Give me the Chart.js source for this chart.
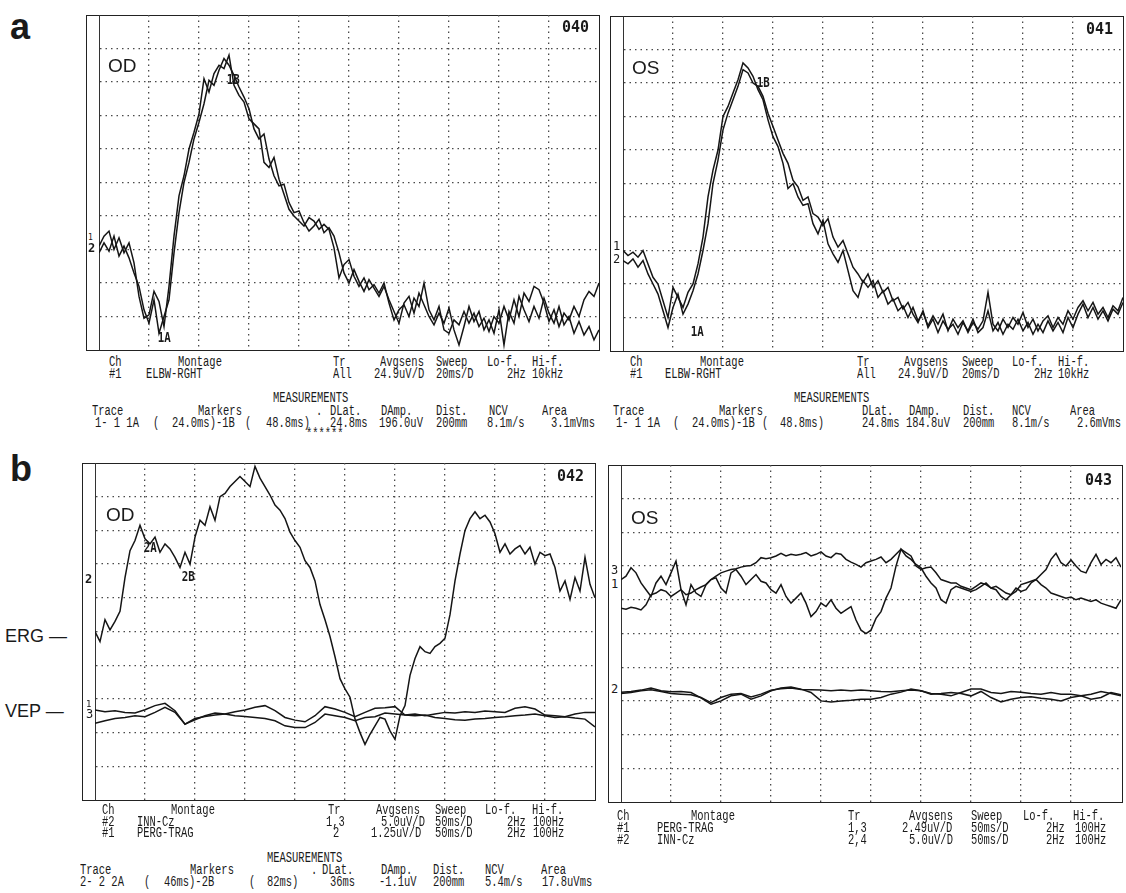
<!DOCTYPE html>
<html>
<head>
<meta charset="utf-8">
<script src="https://cdn.jsdelivr.net/npm/chart.js@4.4.0/dist/chart.umd.min.js"></script>
<style>
  body { margin: 0; background: #fff; }
  #page { position: relative; width: 1126px; height: 893px; overflow: hidden; color: #1a1a1a; background: #fff; }
  .box { position: absolute; box-sizing: border-box; border: 1.5px solid #222; }
  canvas { position: absolute; }
  .txt { position: absolute; white-space: pre; font: 11px "Liberation Mono", monospace; line-height: 12px;
         transform: scale(0.95, 1.35); transform-origin: 0 50%; }
  .lab { position: absolute; white-space: pre; font-family: "Liberation Sans", Arial, sans-serif; line-height: 1; }
  .num { position: absolute; font: bold 15px "DejaVu Sans Mono", monospace; line-height: 1; }
  .mk { position: absolute; font: bold 12px "DejaVu Sans Mono", monospace; line-height: 1; transform: scale(0.9, 1.2); }
  .tr { position: absolute; font: 12px "DejaVu Sans Mono", monospace; line-height: 1; }
</style>
</head>
<body>
<div id="page"></div>
<script>
// sample times (ms)
const timeA = [0,2,4,6,8,10,12,14,16,18,20,22,24,26,28,30,32,34,36,38,40,42,44,46,48,50,52,54,56,58,
  60,62,64,66,68,70,72,74,76,78,80,82,84,86,88,90,92,94,96,98,100,102,104,106,108,110,112,114,116,118,
  120,122,124,126,128,130,132,134,136,138,140,142,144,146,148,150,152,154,156,158,160,162,164,166,168,
  170,172,174,176,178,180,182,184,186,188,190,192,194,196,198,200];
const timeB5 = [0,5,10,15,20,25,30,35,40,45,50,55,60,65,70,75,80,85,90,95,100,105,110,115,120,125,130,
  135,140,145,150,155,160,165,170,175,180,185,190,195,200,205,210,215,220,225,230,235,240,245,250,255,
  260,265,270,275,280,285,290,295,300,305,310,315,320,325,330,335,340,345,350,355,360,365,370,375,380,
  385,390,395,400,405,410,415,420,425,430,435,440,445,450,455,460,465,470,475,480,485,490,495,500];
const timeB10 = [0,10,20,30,40,50,60,70,80,90,100,110,120,130,140,150,160,170,180,190,200,210,220,230,
  240,250,260,270,280,290,300,310,320,330,340,350,360,370,380,390,400,410,420,430,440,450,460,470,480,490,500];

// values in grid divisions (0 = bottom line, 10 = top line)
// panel a, OD (040), traces 1 and 2
const odA1 = [3.1,3.4,3.55,3.0,3.35,2.9,3.2,2.6,1.6,0.95,
  1.05,1.75,1.45,0.7,1.9,3.4,4.6,5.2,6.0,6.5,
  7.05,8.1,7.7,8.25,8.5,8.4,8.8,7.9,7.6,7.4,
  6.9,6.75,6.6,5.6,5.45,5.75,5.1,4.65,4.2,4.0,
  3.85,3.7,3.95,3.85,3.6,3.75,3.6,3.05,2.15,2.55,
  2.7,2.2,1.9,2.15,1.8,1.95,1.7,2.0,1.4,0.9,
  1.2,1.35,1.0,1.55,1.3,2.0,1.2,0.9,1.3,0.6,
  0.5,0.9,0.75,1.15,0.8,1.1,0.7,0.95,0.55,1.0,
  0.8,1.3,0.9,1.5,1.0,1.7,1.45,1.9,1.8,1.4,
  0.85,1.2,0.7,1.1,0.9,1.3,1.0,1.5,1.75,1.6,
  2.0];
const odA2 = [2.9,3.2,2.95,3.4,2.8,3.1,2.75,2.3,1.9,1.2,
  0.8,1.5,0.5,1.0,1.5,2.9,4.1,5.0,5.6,6.3,
  6.8,7.35,8.05,7.9,8.35,8.7,8.5,8.2,7.85,7.55,
  7.2,6.6,6.3,6.45,5.7,5.2,4.9,4.95,4.4,4.1,
  4.15,3.8,3.55,3.7,3.9,3.5,3.65,3.4,2.9,2.3,
  2.0,2.4,2.05,1.75,2.1,1.85,1.6,1.9,1.5,1.15,
  0.8,1.4,1.6,1.1,1.7,1.35,1.0,0.75,1.1,0.8,
  1.25,0.6,0.15,0.7,1.3,0.85,1.15,0.6,0.9,0.5,
  1.2,0.15,1.15,0.8,1.6,1.2,0.85,1.3,0.95,1.55,
  1.1,0.8,1.3,0.75,1.0,0.5,0.85,0.45,0.7,0.3,
  0.6];
// panel a, OS (041), traces 1 and 2
const osA1 = [3.0,2.85,2.95,2.8,3.0,2.6,2.2,2.0,1.5,1.0,
  1.9,1.6,1.3,1.75,2.0,2.6,3.4,4.6,5.4,6.0,
  7.0,7.3,7.7,8.1,8.6,8.45,8.2,7.8,7.5,6.9,
  6.4,6.1,5.6,4.85,5.0,4.6,4.35,4.4,3.8,3.5,
  3.9,3.2,2.9,2.65,3.0,2.4,1.8,1.6,2.1,1.9,
  2.1,1.6,1.8,1.4,1.55,1.2,1.35,1.0,1.3,0.9,
  1.15,0.75,1.05,0.8,1.1,0.6,0.95,0.7,0.9,0.55,
  0.85,0.65,0.9,1.75,0.8,0.6,0.95,0.7,1.0,0.8,
  1.15,0.7,0.95,0.6,0.9,1.05,0.7,1.0,0.8,1.2,
  0.95,1.3,1.5,1.2,1.45,1.1,1.3,1.0,1.35,1.2,
  1.6];
const osA2 = [2.7,2.6,2.75,2.5,2.7,2.3,2.0,1.7,1.2,0.7,
  1.3,1.7,1.1,1.4,1.8,2.3,3.0,3.8,5.0,5.7,
  6.6,7.1,7.5,7.9,8.4,8.3,8.0,7.9,7.6,7.1,
  6.7,6.3,5.9,5.6,5.1,4.9,4.5,4.6,4.1,4.0,
  3.75,3.95,3.4,3.1,3.3,2.9,2.5,2.3,2.05,2.3,
  1.9,2.1,1.75,1.9,1.5,1.6,1.25,1.45,1.1,0.85,
  1.2,0.7,0.95,0.55,0.9,0.65,0.8,0.5,0.85,0.6,
  0.95,0.55,0.7,1.2,0.6,0.85,0.5,0.8,0.65,0.95,
  0.6,0.85,0.5,0.8,0.55,0.9,0.6,0.85,0.55,1.0,
  0.7,1.1,1.4,1.0,1.3,0.95,1.2,0.9,1.25,1.1,
  1.45];
// panel b, OD (042): ERG trace 2, VEP traces 1 and 3
const odB2 = [5.0,4.7,5.35,5.05,5.3,5.6,6.6,7.4,7.7,8.15,
  7.75,7.6,7.8,7.35,7.6,7.45,7.2,6.9,7.35,7.0,
  7.8,8.3,8.15,8.7,8.3,9.0,9.1,9.3,9.45,9.6,
  9.45,9.3,9.9,9.55,9.3,9.05,8.75,8.6,8.35,7.95,
  7.7,7.5,7.1,6.9,6.5,5.8,5.35,4.85,4.25,3.6,
  3.3,3.05,2.4,2.0,1.65,1.95,2.2,2.45,2.4,2.05,
  1.8,2.5,2.8,3.7,4.2,4.55,4.4,4.35,4.55,4.65,
  4.8,5.5,6.5,7.3,8.0,8.35,8.55,8.35,8.45,8.25,
  7.9,7.35,7.6,7.3,7.45,7.55,7.3,7.5,7.0,7.35,
  7.25,7.3,6.9,6.2,6.5,5.95,6.6,6.2,7.2,6.4,
  6.0];
const odB1 = [2.67,2.62,2.65,2.6,2.58,2.68,2.8,2.87,2.65,2.25,
  2.42,2.48,2.52,2.55,2.62,2.67,2.75,2.8,2.65,2.45,
  2.37,2.32,2.5,2.77,2.7,2.6,2.47,2.6,2.72,2.74,
  2.77,2.52,2.55,2.5,2.55,2.6,2.58,2.62,2.6,2.64,
  2.62,2.6,2.72,2.77,2.7,2.52,2.5,2.47,2.55,2.6,
  2.6];
const odB3 = [2.28,2.35,2.42,2.45,2.5,2.47,2.6,2.75,2.6,2.25,
  2.38,2.5,2.58,2.55,2.5,2.48,2.45,2.42,2.35,2.2,
  2.15,2.15,2.3,2.55,2.5,2.45,2.35,2.45,2.47,2.58,
  2.55,2.52,2.5,2.52,2.45,2.42,2.38,2.37,2.4,2.42,
  2.45,2.47,2.5,2.52,2.55,2.5,2.45,2.47,2.43,2.4,
  2.17];
// panel b, OS (043): traces 1,3 (upper) and 2,4 (lower)
const osB1 = [6.6,6.7,6.95,6.8,6.5,6.3,6.1,6.5,6.7,6.45,
  6.8,7.15,6.3,5.85,6.45,6.2,6.1,6.45,6.6,6.65,
  6.35,6.2,6.8,6.9,6.7,6.45,6.6,6.75,6.55,6.5,
  6.3,6.2,6.45,6.1,5.9,6.05,6.2,5.9,5.5,5.65,
  5.9,5.8,6.0,5.75,5.6,5.7,5.8,5.4,5.1,5.0,
  5.1,5.45,5.65,6.05,6.35,7.0,7.5,7.3,7.2,7.05,
  6.95,6.7,6.5,6.35,6.0,5.9,6.3,6.4,6.35,6.3,
  6.25,6.3,6.4,6.5,6.35,6.3,6.1,6.0,6.15,6.35,
  6.25,6.3,6.5,6.6,6.45,6.35,6.2,6.15,6.1,6.05,
  6.08,6.0,6.05,6.0,5.95,6.0,5.9,5.85,5.8,5.75,
  6.0];
const osB3 = [5.75,5.72,5.78,5.75,5.7,5.85,6.15,6.2,6.3,6.25,
  6.1,6.2,6.3,6.15,6.2,6.3,6.38,6.45,6.6,6.7,
  6.8,6.85,6.9,6.92,6.97,7.0,7.02,7.1,7.25,7.22,
  7.25,7.3,7.38,7.3,7.35,7.32,7.35,7.4,7.3,7.35,
  7.42,7.3,7.25,7.38,7.35,7.2,7.12,7.05,6.97,7.1,
  7.15,7.2,7.27,7.1,7.2,7.35,7.5,7.4,7.3,7.0,
  6.9,6.95,6.97,6.8,6.6,6.55,6.5,6.5,6.4,6.35,
  6.3,6.4,6.5,6.45,6.35,6.4,6.3,6.2,6.15,6.25,
  6.45,6.5,6.55,6.6,6.75,6.9,7.2,7.38,7.1,7.0,
  7.18,7.0,6.85,6.8,7.1,7.35,7.05,7.2,7.1,7.25,
  6.97];
const osB2 = [3.26,3.28,3.32,3.38,3.3,3.27,3.28,3.25,3.09,2.9,
  3.0,3.15,3.2,3.05,3.15,3.3,3.38,3.41,3.35,3.25,
  3.0,2.97,3.0,3.02,3.05,3.05,3.1,3.2,3.26,3.35,
  3.3,3.22,3.2,3.15,3.25,3.35,3.35,3.25,3.22,3.28,
  3.26,3.22,3.2,3.25,3.2,3.2,3.15,3.2,3.28,3.22,
  3.15];
const osB4 = [3.22,3.25,3.3,3.33,3.28,3.22,3.2,3.18,3.1,2.95,
  3.1,3.2,3.22,3.12,3.2,3.32,3.36,3.38,3.34,3.33,
  3.32,3.3,3.32,3.3,3.32,3.3,3.28,3.27,3.3,3.32,
  3.3,3.2,3.22,3.25,3.22,3.15,3.28,3.1,2.97,3.05,
  3.1,3.12,3.08,3.05,3.0,3.1,3.15,3.05,3.1,3.25,
  3.18];

const page = document.getElementById("page");

function pts(t, v) {
  return t.map(function (x, i) { return { x: x, y: v[i] }; });
}

function addEl(cls, left, top, text, style) {
  const d = document.createElement("div");
  d.className = cls;
  d.style.left = left + "px";
  d.style.top = top + "px";
  if (style) d.style.cssText += style;
  d.textContent = text;
  page.appendChild(d);
  return d;
}

// one recording panel: outer frame + chart in the plot area
function panel(frame, plot, xMax, xStep, traces) {
  const b = document.createElement("div");
  b.className = "box";
  b.style.left = frame[0] + "px";
  b.style.top = frame[1] + "px";
  b.style.width = frame[2] + "px";
  b.style.height = frame[3] + "px";
  page.appendChild(b);

  const pad = 2;
  const c = document.createElement("canvas");
  c.width = plot[2] + pad * 2;
  c.height = plot[3] + pad * 2;
  c.style.left = (plot[0] - pad) + "px";
  c.style.top = (plot[1] - pad) + "px";
  page.appendChild(c);

  function gridColor(ctx) {
    if (!ctx.tick) return "#444";
    const v = ctx.tick.value;
    return (v <= ctx.scale.min || v >= ctx.scale.max) ? "rgba(0,0,0,0)" : "#4a4a4a";
  }

  new Chart(c.getContext("2d"), {
    type: "line",
    data: {
      datasets: traces.map(function (tr) {
        return {
          data: pts(tr[0], tr[1]),
          borderColor: "#151515",
          borderWidth: 1.5,
          pointRadius: 0,
          tension: 0,
          fill: false
        };
      })
    },
    options: {
      responsive: false,
      animation: false,
      devicePixelRatio: 1,
      layout: { padding: pad },
      plugins: { legend: { display: false }, tooltip: { enabled: false } },
      scales: {
        x: {
          type: "linear", min: 0, max: xMax,
          ticks: { display: false, stepSize: xStep },
          grid: { color: gridColor, lineWidth: 1.3, drawTicks: false },
          border: { display: false, dash: [1.5, 4] }
        },
        y: {
          min: 0, max: 10,
          ticks: { display: false, stepSize: 1 },
          grid: { color: gridColor, lineWidth: 1.3, drawTicks: false },
          border: { display: true, color: "#333", width: 1, dash: [1.5, 4] }
        }
      }
    }
  });
}

panel([86, 15, 514, 336], [99, 15, 500, 335], 200, 20, [[timeA, odA1], [timeA, odA2]]);
panel([610, 16, 514, 336], [623, 16, 500, 335], 200, 20, [[timeA, osA1], [timeA, osA2]]);
panel([82, 463, 514, 338], [95, 463, 500, 337], 500, 50,
  [[timeB10, odB1], [timeB10, odB3], [timeB5, odB2]]);
panel([608, 465, 515, 338], [621, 465, 500, 337], 500, 50,
  [[timeB5, osB1], [timeB5, osB3], [timeB10, osB2], [timeB10, osB4]]);

// printed parameter blocks
const infoText = [
  [109,362,"Ch"],[178,362,"Montage"],[333,362,"Tr"],[380,362,"Avgsens"],[436,362,"Sweep"],[487,362,"Lo-f."],[532,362,"Hi-f."],
  [109,374,"#1"],[146,374,"ELBW-RGHT"],[333,374,"All"],[374,374,"24.9uV/D"],[436,374,"20ms/D"],[507,374,"2Hz"],[532,374,"10kHz"],
  [273,398,"MEASUREMENTS"],
  [92,411,"Trace"],[198,411,"Markers"],[316,411,"."],[330,411,"DLat."],[381,411,"DAmp."],[436,411,"Dist."],[489,411,"NCV"],[542,411,"Area"],
  [95,423,"1- 1 1A"],[153,423,"("],[172,423,"24.0ms)-1B"],[245,423,"("],[266,423,"48.8ms)"],[330,423,"24.8ms"],[379,423,"196.0uV"],[436,423,"200mm"],[487,423,"8.1m/s"],[551,423,"3.1mVms"],
  [306,434,"******"],

  [630,362,"Ch"],[700,362,"Montage"],[857,362,"Tr"],[904,362,"Avgsens"],[962,362,"Sweep"],[1012,362,"Lo-f."],[1058,362,"Hi-f."],
  [630,374,"#1"],[665,374,"ELBW-RGHT"],[857,374,"All"],[898,374,"24.9uV/D"],[962,374,"20ms/D"],[1034,374,"2Hz"],[1058,374,"10kHz"],
  [794,398,"MEASUREMENTS"],
  [613,411,"Trace"],[719,411,"Markers"],[862,411,"DLat."],[909,411,"DAmp."],[963,411,"Dist."],[1012,411,"NCV"],[1070,411,"Area"],
  [616,423,"1- 1 1A"],[673,423,"("],[692,423,"24.0ms)-1B"],[762,423,"("],[780,423,"48.8ms)"],[862,423,"24.8ms"],[906,423,"184.8uV"],[963,423,"200mm"],[1012,423,"8.1m/s"],[1077,423,"2.6mVms"],

  [102,810,"Ch"],[171,810,"Montage"],[328,810,"Tr"],[376,810,"Avgsens"],[435,810,"Sweep"],[485,810,"Lo-f."],[532,810,"Hi-f."],
  [102,822,"#2"],[137,822,"INN-Cz"],[326,822,"1,3"],[381,822,"5.0uV/D"],[435,822,"50ms/D"],[507,822,"2Hz"],[533,822,"100Hz"],
  [102,833,"#1"],[137,833,"PERG-TRAG"],[333,833,"2"],[371,833,"1.25uV/D"],[435,833,"50ms/D"],[507,833,"2Hz"],[533,833,"100Hz"],
  [267,858,"MEASUREMENTS"],
  [80,870,"Trace"],[190,870,"Markers"],[311,870,"."],[322,870,"DLat."],[381,870,"DAmp."],[433,870,"Dist."],[485,870,"NCV"],[541,870,"Area"],
  [80,882,"2- 2 2A"],[144,882,"("],[164,882,"46ms)-2B"],[249,882,"("],[267,882,"82ms)"],[330,882,"36ms"],[379,882,"-1.1uV"],[433,882,"200mm"],[485,882,"5.4m/s"],[542,882,"17.8uVms"],

  [617,816,"Ch"],[691,816,"Montage"],[848,816,"Tr"],[909,816,"Avgsens"],[971,816,"Sweep"],[1023,816,"Lo-f."],[1073,816,"Hi-f."],
  [617,828,"#1"],[657,828,"PERG-TRAG"],[848,828,"1,3"],[902,828,"2.49uV/D"],[971,828,"50ms/D"],[1046,828,"2Hz"],[1075,828,"100Hz"],
  [617,840,"#2"],[657,840,"INN-Cz"],[848,840,"2,4"],[909,840,"5.0uV/D"],[971,840,"50ms/D"],[1046,840,"2Hz"],[1075,840,"100Hz"]
];
infoText.forEach(function (t) { addEl("txt", t[0], t[1] - 6, t[2]); });

// figure letters and annotations
addEl("lab", 10, 9, "a", "font-size:36px;font-weight:bold;");
addEl("lab", 10, 451, "b", "font-size:36px;font-weight:bold;");
addEl("lab", 5, 627, "ERG \u2014", "font-size:18px;");
addEl("lab", 5, 702, "VEP \u2014", "font-size:18px;");
addEl("lab", 108, 56, "OD", "font-size:19px;");
addEl("lab", 632, 58, "OS", "font-size:19px;");
addEl("lab", 106, 505, "OD", "font-size:19px;");
addEl("lab", 631, 508, "OS", "font-size:19px;");

addEl("num", 562, 20, "040");
addEl("num", 1086, 22, "041");
addEl("num", 557, 469, "042");
addEl("num", 1085, 473, "043");

addEl("mk", 157, 331, "1A");
addEl("mk", 226, 73, "1B");
addEl("mk", 690, 325, "1A");
addEl("mk", 756, 76, "1B");
addEl("mk", 143, 541, "2A");
addEl("mk", 181, 570, "2B");

// trace numbers in the left margin of each frame
addEl("tr", 88, 234, "1", "font-size:8px;");
addEl("tr", 88, 242, "2", "font-weight:bold;");
addEl("tr", 613, 240, "1");
addEl("tr", 613, 253, "2");
addEl("tr", 85, 573, "2", "font-weight:bold;");
addEl("tr", 86, 700, "1", "font-size:9px;");
addEl("tr", 86, 708, "3");
addEl("tr", 611, 564, "3");
addEl("tr", 611, 578, "1");
addEl("tr", 611, 683, "2");
</script>
</body>
</html>
